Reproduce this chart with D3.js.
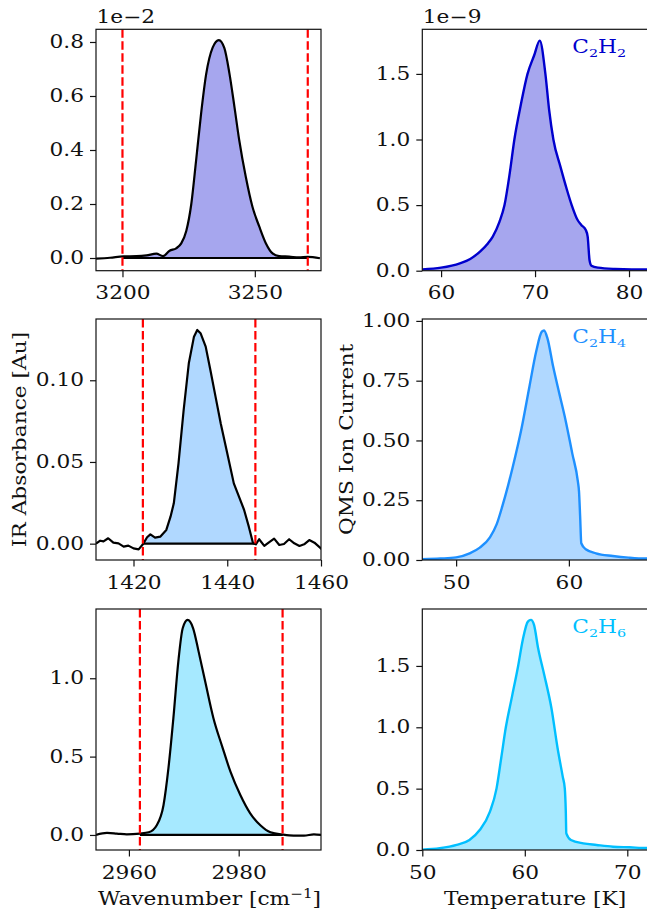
<!DOCTYPE html>
<html>
<head>
<meta charset="utf-8">
<script src="https://cdn.jsdelivr.net/npm/d3@7"></script>
<style>
  html, body { margin: 0; padding: 0; background: #fff; }
  svg { display: block; }
</style>
</head>
<body>
<script>
// ---------------- DATA ----------------
// IR spectra (left column): [wavenumber, absorbance]
const irC2H2 = [[3190,-0.002],[3195.3,0.001],[3200.3,0.006],[3205.3,0.007],[3209.1,0.010],[3212.8,0.016],[3215.3,0.007],[3217.8,0.027],[3220.3,0.036],[3222.2,0.054],[3224.1,0.10],[3226.0,0.20],[3227.8,0.36],[3229.7,0.535],[3231.6,0.68],[3234.1,0.78],[3236.4,0.807],[3238.5,0.777],[3240.4,0.684],[3242.3,0.56],[3244.1,0.437],[3246.6,0.30],[3249.1,0.19],[3251.7,0.116],[3254.2,0.054],[3256.7,0.017],[3259.2,0.007],[3263.0,0.005],[3266.7,0.002],[3269.9,0.004],[3274.6,-0.001]];
const irC2H4 = [[1412.0,0.0],[1412.9,0.0018],[1413.6,0.0014],[1414.6,0.0033],[1415.7,0.0006],[1416.8,0.0002],[1417.9,-0.0018],[1418.9,-0.0012],[1420.0,-0.0029],[1421.1,-0.0035],[1422.0,-0.0004],[1422.9,0.0039],[1423.6,0.0057],[1424.6,0.0037],[1425.7,0.0043],[1427.0,0.0084],[1427.9,0.0165],[1428.6,0.0247],[1429.6,0.0492],[1430.7,0.0818],[1431.8,0.1104],[1432.9,0.1267],[1433.6,0.1308],[1434.3,0.1288],[1435.4,0.1206],[1436.4,0.1063],[1437.5,0.090],[1438.6,0.0737],[1440.0,0.0553],[1441.4,0.0369],[1442.5,0.0288],[1443.6,0.0206],[1444.6,0.0104],[1445.5,0.0002],[1446.1,-0.0004],[1446.8,0.0027],[1447.9,-0.0014],[1448.9,0.0008],[1450.0,0.0031],[1451.1,-0.0008],[1452.1,-0.0002],[1453.2,0.0027],[1454.3,0.0002],[1455.4,-0.0014],[1456.4,-0.0004],[1457.5,0.0022],[1458.6,0.0006],[1460.2,-0.0035]];
const irC2H6 = [[2954.0,0.0],[2956.0,0.013],[2957.8,0.009],[2959.6,0.004],[2962.0,0.009],[2963.6,0.017],[2965.1,0.064],[2966.3,0.19],[2967.2,0.426],[2968.1,0.745],[2969.0,1.106],[2969.8,1.319],[2970.7,1.372],[2971.7,1.319],[2972.7,1.17],[2973.9,0.979],[2975.4,0.745],[2977.0,0.564],[2978.5,0.404],[2980.3,0.255],[2982.1,0.138],[2984.0,0.06],[2985.8,0.017],[2988.1,0.002],[2990.0,-0.004],[2991.9,-0.004],[2993.7,0.004],[2995.1,0.0]];
// QMS TPD traces (right column): [temperature K, ion current]
const qmsC2H2 = [[58.0,0.010],[60.0,0.023],[62.0,0.056],[63.1,0.089],[64.2,0.150],[65.0,0.210],[65.5,0.260],[66.2,0.370],[66.75,0.50],[67.3,0.74],[67.8,1.00],[68.5,1.27],[69.2,1.50],[69.9,1.64],[70.5,1.754],[71.1,1.50],[71.5,1.225],[71.95,1.00],[72.7,0.793],[73.4,0.615],[73.9,0.50],[74.5,0.39],[74.9,0.350],[75.4,0.31],[75.6,0.26],[75.8,0.08],[76.0,0.038],[76.7,0.023],[78.5,0.013],[80.3,0.010],[82.0,0.010]];
const qmsC2H4 = [[47.0,0.003],[48.6,0.006],[50.0,0.011],[51.2,0.028],[52.1,0.052],[53.0,0.095],[53.6,0.150],[54.1,0.225],[54.6,0.310],[55.0,0.385],[55.8,0.55],[56.5,0.725],[57.1,0.872],[57.6,0.955],[57.8,0.96],[58.1,0.927],[58.6,0.81],[59.15,0.697],[59.7,0.586],[60.3,0.446],[60.8,0.328],[60.9,0.286],[61.0,0.181],[61.1,0.07],[61.5,0.045],[62.4,0.028],[63.9,0.017],[65.3,0.010],[66.8,0.006],[67.0,0.006]];
const qmsC2H6 = [[50.0,0.003],[51.7,0.014],[53.35,0.041],[54.6,0.082],[55.6,0.163],[56.6,0.313],[57.24,0.50],[57.7,0.75],[58.15,1.00],[58.75,1.25],[59.35,1.50],[59.8,1.712],[60.3,1.861],[60.6,1.875],[60.9,1.834],[61.3,1.644],[61.9,1.427],[62.6,1.155],[63.2,0.829],[63.7,0.598],[63.9,0.503],[64.0,0.313],[64.05,0.136],[64.5,0.082],[65.7,0.054],[67.0,0.041],[68.6,0.027],[70.2,0.022],[71.9,0.016],[72.0,0.016]];

// integration limits (red dashed lines)
const irLimits = [[3200, 3270], [1422, 1446], [2962, 2988]];
// axis ranges
const irXDomains = [[3190, 3275], [1412, 1460], [2954, 2995]];
const irYDomains = [[-0.047, 0.847], [-0.010, 0.1375], [-0.096, 1.442]];
const qmsXDomains = [[58, 82], [47, 67], [50, 72]];
const qmsYDomains = [[0, 1.84], [0, 1.008], [0, 1.964]];
// tick values
const irXTicks = [[3200, 3250], [1420, 1440, 1460], [2960, 2980]];
const irYTicks = [[0, 0.2, 0.4, 0.6, 0.8], [0, 0.05, 0.10], [0, 0.5, 1.0]];
const qmsXTicks = [[60, 70, 80], [50, 60], [50, 60, 70]];
const qmsYTicks = [[0, 0.5, 1.0, 1.5], [0, 0.25, 0.5, 0.75, 1.0], [0, 0.5, 1.0, 1.5]];
const irYFormats = [".1f", ".2f", ".1f"];
const qmsYFormats = [".1f", ".2f", ".1f"];
const irOffsets = ["1e\u22122", "", ""];
const qmsOffsets = ["1e\u22129", "", ""];
// species
const species = [["C", "2", "H", "2"], ["C", "2", "H", "4"], ["C", "2", "H", "6"]];
const speciesColors = ["#0000CD", "#1E90FF", "#00BFFF"];
const irData = [irC2H2, irC2H4, irC2H6];
const qmsData = [qmsC2H2, qmsC2H4, qmsC2H6];
const irSmooth = [true, false, true];

const xLabelLeft = "Wavenumber [cm";
const xLabelLeftSup = "\u22121";
const xLabelRight = "Temperature [K]";
const yLabelLeft = "IR Absorbance [Au]";
const yLabelRight = "QMS Ion Current";

// ---------------- LAYOUT ----------------
const W = 647, H = 912;
const colX = [[96, 321], [422.3, 647.8]];
const rowY = [[29.3, 270.7], [319, 560], [609, 850]];
const FS = 17.8;       // font size (vertical)
const SX = 1.22;       // horizontal glyph stretch
const FONT = "'DejaVu Serif'";
const ink = "#111";

const svg = d3.select("body").append("svg").attr("width", W).attr("height", H);

function txt(sel) {
  return sel.style("font-family", FONT).style("font-size", FS + "px");
}
// place a stretched text at (X,Y), optionally rotated
function label(parent, X, Y, rot) {
  const g = parent.append("g")
    .attr("transform", `translate(${X},${Y})` + (rot ? ` rotate(${rot})` : "") + ` scale(${SX},1)`);
  return txt(g.append("text")).attr("fill", ink);
}

function fillColor(c, a) {
  const col = d3.rgb(c);
  return d3.rgb(255 + (col.r - 255) * a, 255 + (col.g - 255) * a, 255 + (col.b - 255) * a).formatHex();
}

function panel(opts, idx) {
  const [x0, x1] = opts.cx;
  const [y0, y1] = opts.ry;
  const x = d3.scaleLinear().domain(opts.xd).range([x0, x1]);
  const y = d3.scaleLinear().domain(opts.yd).range([y1, y0]);
  const g = svg.append("g");
  const clipId = "clip" + idx;
  svg.append("clipPath").attr("id", clipId).append("rect")
    .attr("x", x0).attr("y", y0).attr("width", x1 - x0).attr("height", y1 - y0);
  const plot = g.append("g").attr("clip-path", `url(#${clipId})`);
  const curve = opts.smooth ? d3.curveMonotoneX : d3.curveLinear;

  if (opts.limits) {
    const [a, b] = opts.limits;
    const clipF = "clipF" + idx;
    svg.append("clipPath").attr("id", clipF).append("rect")
      .attr("x", x(a)).attr("y", y0).attr("width", x(b) - x(a)).attr("height", y1 - y0);
    plot.append("path").datum(opts.data)
      .attr("clip-path", `url(#${clipF})`)
      .attr("fill", opts.fill)
      .attr("d", d3.area().curve(curve).x(d => x(d[0])).y0(y(0)).y1(d => y(Math.max(d[1], 0)))(opts.data));
    plot.append("path").datum(opts.data)
      .attr("fill", "none").attr("stroke", opts.line).attr("stroke-width", 2.2)
      .attr("stroke-linejoin", "round")
      .attr("d", d3.line().curve(curve).x(d => x(d[0])).y(d => y(d[1]))(opts.data));
    plot.append("line")
      .attr("x1", x(a)).attr("x2", x(b)).attr("y1", y(0)).attr("y2", y(0))
      .attr("stroke", opts.line).attr("stroke-width", 2.2);
    [a, b].forEach(v => {
      plot.append("line")
        .attr("x1", x(v)).attr("x2", x(v)).attr("y1", y0).attr("y2", y1)
        .attr("stroke", "#ff0000").attr("stroke-width", 2.2)
        .attr("stroke-dasharray", "8.5,3.5");
    });
  } else {
    plot.append("path").datum(opts.data)
      .attr("fill", opts.fill)
      .attr("d", d3.area().curve(curve).x(d => x(d[0])).y0(y(0)).y1(d => y(d[1]))(opts.data));
    plot.append("path").datum(opts.data)
      .attr("fill", "none").attr("stroke", opts.line).attr("stroke-width", 2.4)
      .attr("stroke-linejoin", "round")
      .attr("d", d3.line().curve(curve).x(d => x(d[0])).y(d => y(d[1]))(opts.data));
  }

  // axes
  const xa = g.append("g").attr("transform", `translate(0,${y1})`)
    .call(d3.axisBottom(x).tickValues(opts.xt).tickFormat(d3.format("d")).tickSize(6.5).tickPadding(9.5));
  const ya = g.append("g").attr("transform", `translate(${x0},0)`)
    .call(d3.axisLeft(y).tickValues(opts.yt).tickFormat(d3.format(opts.yf)).tickSize(6).tickPadding(6));
  [xa, ya].forEach(a => {
    a.select(".domain").remove();
    a.selectAll("line").attr("stroke", ink).attr("stroke-width", 1.2);
    txt(a.selectAll("text")).attr("fill", ink).each(function () {
      const t = d3.select(this);
      const xv = +t.attr("x") || 0;
      t.attr("x", xv / SX).attr("transform", `scale(${SX},1)`);
    });
  });
  // frame
  g.append("rect").attr("x", x0).attr("y", y0).attr("width", x1 - x0).attr("height", y1 - y0)
    .attr("fill", "none").attr("stroke", ink).attr("stroke-width", 1.2);

  if (opts.offset) {
    label(g, x0 + 0.5, y0 - 6).text(opts.offset);
  }
  if (opts.species) {
    const t = label(g, x0 + 150, y0 + 24).style("fill", opts.line);
    const s = opts.species;
    const sub = (FS * 0.66) + "px";
    t.append("tspan").text(s[0]);
    t.append("tspan").style("font-size", sub).attr("dy", 4).text(s[1]);
    t.append("tspan").attr("dy", -4).text(s[2]);
    t.append("tspan").style("font-size", sub).attr("dy", 4).text(s[3]);
  }
}

for (let r = 0; r < 3; r++) {
  panel({
    cx: colX[0], ry: rowY[r], xd: irXDomains[r], yd: irYDomains[r],
    xt: irXTicks[r], yt: irYTicks[r], yf: irYFormats[r],
    data: irData[r], limits: irLimits[r], line: "#000",
    fill: fillColor(speciesColors[r], 0.35), smooth: irSmooth[r], offset: irOffsets[r]
  }, "L" + r);
  panel({
    cx: colX[1], ry: rowY[r], xd: qmsXDomains[r], yd: qmsYDomains[r],
    xt: qmsXTicks[r], yt: qmsYTicks[r], yf: qmsYFormats[r],
    data: qmsData[r], line: speciesColors[r],
    fill: fillColor(speciesColors[r], 0.35), smooth: true, offset: qmsOffsets[r], species: species[r]
  }, "R" + r);
}

// axis labels
const xl = label(svg, (colX[0][0] + colX[0][1]) / 2 + 1, 905).attr("text-anchor", "middle");
xl.append("tspan").text(xLabelLeft);
xl.append("tspan").style("font-size", (FS * 0.7) + "px").attr("dy", -7).text(xLabelLeftSup);
xl.append("tspan").attr("dy", 7).text("]");

label(svg, 535, 905).attr("text-anchor", "middle").text(xLabelRight);

label(svg, 25.7, (rowY[1][0] + rowY[1][1]) / 2, -90).attr("text-anchor", "middle").text(yLabelLeft);
label(svg, 352.5, (rowY[1][0] + rowY[1][1]) / 2, -90).attr("text-anchor", "middle").text(yLabelRight);
</script>
</body>
</html>
